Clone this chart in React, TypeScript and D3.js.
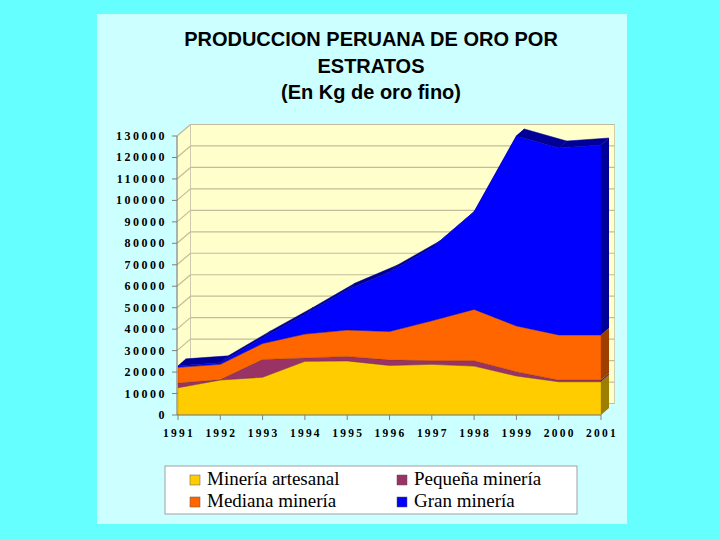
import * as d3 from "d3";

const years = ["1991", "1992", "1993", "1994", "1995", "1996", "1997", "1998", "1999", "2000", "2001"];
// kg of fine gold per stratum
const artesanal = [12700, 16300, 17600, 25000, 25200, 23100, 23600, 22800, 18200, 15500, 15500];
const pequena = [2200, 200, 8300, 1600, 2100, 2600, 1700, 2500, 2000, 800, 800];
const mediana = [7300, 7100, 7400, 11100, 12300, 13200, 18600, 23900, 21300, 21000, 21000];
const gran = [700, 700, 2600, 9100, 18600, 27700, 33900, 45500, 88500, 87100, 88500];
const yTicks = d3.range(0, 130001, 10000);

const seriesNames = ["Minería artesanal", "Pequeña minería", "Mediana minería", "Gran minería"];
const colors = ["#FFCC00", "#993366", "#FF6600", "#0000FF"];
const darkColors = ["#9C7E00", "#5E1F3F", "#9E3F00", "#000099"];

const W = 720;
const H = 540;
const WX = 13.5; // wall depth
const WY = -11.5;
const SX = 8; // series slab depth
const SY = -7;

export default function App() {
  const x = d3.scalePoint<string>().domain(years).range([178, 601]);
  const y = d3.scaleLinear().domain([0, 130000]).range([415, 136]);
  const x0 = 177;
  const x1 = 601;

  const rows = years.map((yr, i) => ({
    year: yr,
    a: artesanal[i],
    p: pequena[i],
    m: mediana[i],
    g: gran[i],
  }));
  const stack = d3.stack<(typeof rows)[number]>().keys(["a", "p", "m", "g"]);
  const layers = stack(rows);

  const area = d3
    .area<d3.SeriesPoint<(typeof rows)[number]>>()
    .x((d) => x(d.data.year) as number)
    .y0((d) => y(d[0]))
    .y1((d) => y(d[1]));

  const top = layers[layers.length - 1];
  const last = years.length - 1;
  const xl = x(years[last]) as number;

  const pt = (px: number, py: number) => `${px},${py}`;

  // top face of the stack, segment by segment
  const topFaces = top.slice(0, -1).map((d, i) => {
    const n = top[i + 1];
    const ax = x(d.data.year) as number;
    const bx = x(n.data.year) as number;
    const ay = y(d[1]);
    const by = y(n[1]);
    return [pt(ax, ay), pt(bx, by), pt(bx + SX, by + SY), pt(ax + SX, ay + SY)].join(" ");
  });

  const yBack = (v: number) => y(v) + WY;

  return (
    <svg
      width={W}
      height={H}
      style={{ position: "absolute", left: 0, top: 0, display: "block" }}
      fontFamily="'Liberation Serif', 'Times New Roman', serif"
    >
      <rect width={W} height={H} fill="#66FFFF" />
      <rect x={97} y={14} width={530} height={510} fill="#CCFFFF" />

      {/* title */}
      <g fontFamily="'Liberation Sans', Arial, sans-serif" fontWeight="bold" fontSize={20} textAnchor="middle" fill="#000">
        <text x={371} y={46}>PRODUCCION PERUANA DE ORO POR</text>
        <text x={371} y={72.5}>ESTRATOS</text>
        <text x={371} y={99}>(En Kg de oro fino)</text>
      </g>

      {/* walls */}
      <polygon
        points={[pt(x0, y(130000)), pt(x0 + WX, yBack(130000)), pt(x0 + WX, yBack(0)), pt(x0, y(0))].join(" ")}
        fill="#FFFFCC"
        stroke="#C8C4A8"
        strokeWidth={0.8}
      />
      <rect
        x={x0 + WX}
        y={yBack(130000)}
        width={x1 + WX - (x0 + WX)}
        height={yBack(0) - yBack(130000)}
        fill="#FFFFCC"
        stroke="#C8C4A8"
        strokeWidth={0.8}
      />
      {yTicks.map((t) => (
        <g key={t} stroke="#C2BC9A" strokeWidth={1.2}>
          <line x1={x0} y1={y(t)} x2={x0 + WX} y2={yBack(t)} />
          <line x1={x0 + WX} y1={yBack(t)} x2={x1 + WX} y2={yBack(t)} />
        </g>
      ))}

      {/* right side faces at the last year */}
      {layers.map((L, i) => {
        const d = L[last];
        const ya = y(d[0]);
        const yb = y(d[1]);
        return (
          <polygon
            key={`side${i}`}
            points={[pt(xl, ya), pt(xl, yb), pt(xl + SX, yb + SY), pt(xl + SX, ya + SY)].join(" ")}
            fill={darkColors[i]}
          />
        );
      })}

      {/* top faces */}
      {topFaces.map((p, i) => (
        <polygon key={`top${i}`} points={p} fill={darkColors[3]} stroke={darkColors[3]} strokeWidth={0.5} />
      ))}

      {/* front faces */}
      {layers.map((L, i) => (
        <path key={`front${i}`} d={area(L) ?? ""} fill={colors[i]} stroke={darkColors[i]} strokeWidth={0.6} strokeOpacity={0.6} />
      ))}

      {/* y axis */}
      <line x1={x0} y1={y(130000)} x2={x0} y2={y(0)} stroke="#808080" />
      {yTicks.map((t) => (
        <g key={`yt${t}`}>
          <line x1={x0 - 5} y1={y(t)} x2={x0} y2={y(t)} stroke="#808080" />
          <text
            x={167}
            y={y(t) + 4}
            textAnchor="end"
            fontWeight="bold"
            fontSize={12}
            letterSpacing={2.5}
          >
            {t}
          </text>
        </g>
      ))}

      {/* x axis */}
      <line x1={x0} y1={y(0)} x2={x1} y2={y(0)} stroke="#808080" />
      {years.map((yr) => (
        <g key={`xt${yr}`}>
          <line x1={x(yr) as number} y1={y(0)} x2={x(yr) as number} y2={y(0) + 5} stroke="#808080" />
          <text x={(x(yr) as number) + 1} y={437} textAnchor="middle" fontWeight="bold" fontSize={11.5} letterSpacing={2.2}>
            {yr}
          </text>
        </g>
      ))}

      {/* legend */}
      <rect x={165} y={466} width={412} height={48} fill="#FFFFFF" stroke="#A0A0A0" />
      {[0, 2, 1, 3].map((si, k) => {
        const col = k < 2 ? 0 : 1;
        const row = k % 2;
        const lx = col === 0 ? 190 : 397;
        const base = row === 0 ? 485 : 507;
        return (
          <g key={`lg${si}`}>
            <rect x={lx} y={base - 10} width={10} height={10} fill={colors[si]} stroke="#555" strokeWidth={0.5} />
            <text x={lx + 17} y={base} fontSize={19} fill="#000">
              {seriesNames[si]}
            </text>
          </g>
        );
      })}
    </svg>
  );
}
